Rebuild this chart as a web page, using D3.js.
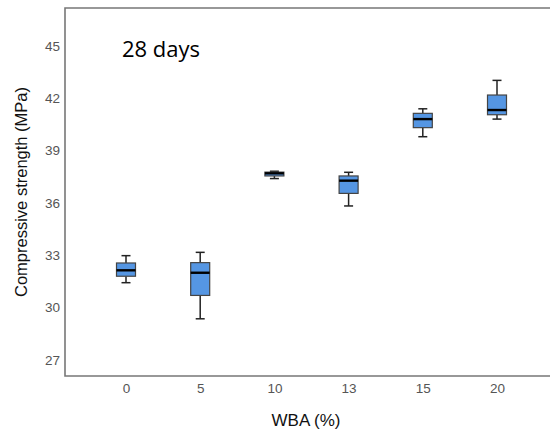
<!DOCTYPE html>
<html lang="en">
<head>
    <meta charset="utf-8">
    <title>Compressive strength boxplot</title>
    <script type="text/javascript" src="https://d3js.org/d3.v7.min.js"></script>
    <style>
        body { margin: 0; background: #fff; }
    </style>
</head>
<body>
    <div class="chart"></div>
    <script type="text/javascript">
        // DATA ------------------------------
        const categories = ["0", "5", "10", "13", "15", "20"];
        const mins    = [31.43, 29.36, 37.40, 35.83, 39.80, 40.81];
        const q1s     = [31.80, 30.70, 37.55, 36.55, 40.32, 41.06];
        const medians = [32.14, 32.00, 37.70, 37.28, 40.81, 41.33];
        const q3s     = [32.56, 32.58, 37.77, 37.55, 41.14, 42.19];
        const maxs    = [32.98, 33.17, 37.82, 37.76, 41.40, 43.03];
        const yTicks  = [27, 30, 33, 36, 39, 42, 45];

        const data = categories.map((c, i) => ({
            cat: c, min: mins[i], q1: q1s[i], med: medians[i], q3: q3s[i], max: maxs[i]
        }));

        // CHART INIT ------------------------------
        const width = 550, height = 432;
        const margin = ({top: 8, right: 0, bottom: 56, left: 65});

        const svg = d3.select(".chart")
            .append("svg")
            .attr("width", width)
            .attr("height", height);

        const xScale = d3.scalePoint()
            .domain(categories)
            .range([126, 497]);

        const yScale = d3.scaleLinear()
            .domain([26.08, 47.18])
            .range([height - margin.bottom, margin.top]);

        // frame (left, top, bottom)
        svg.append("path")
            .attr("d", `M${width},${margin.top}H${margin.left}V${height - margin.bottom}H${width}`)
            .attr("fill", "none")
            .attr("stroke", "#777")
            .attr("stroke-width", 1.6);

        // axes
        const yAxis = d3.axisLeft(yScale)
            .tickValues(yTicks)
            .tickSize(0)
            .tickPadding(5);

        svg.append("g")
            .attr("class", "axis y-axis")
            .attr("transform", `translate(${margin.left}, 0)`)
            .call(yAxis)
            .call(g => g.select(".domain").remove())
            .selectAll("text")
            .attr("font-family", "Liberation Sans, Arial, sans-serif")
            .attr("font-size", 13.5)
            .attr("fill", "#555");

        const xAxis = d3.axisBottom(xScale)
            .tickSize(0)
            .tickPadding(7);

        svg.append("g")
            .attr("class", "axis x-axis")
            .attr("transform", `translate(0, ${height - margin.bottom})`)
            .call(xAxis)
            .call(g => g.select(".domain").remove())
            .selectAll("text")
            .attr("font-family", "Liberation Sans, Arial, sans-serif")
            .attr("font-size", 13.5)
            .attr("fill", "#555");

        // axis titles
        svg.append("text")
            .attr("x", 306)
            .attr("y", 426)
            .attr("text-anchor", "middle")
            .attr("font-family", "Liberation Sans, Arial, sans-serif")
            .attr("font-size", 17)
            .attr("fill", "#111")
            .text("WBA (%)");

        svg.append("text")
            .attr("transform", "translate(27, 192) rotate(-90)")
            .attr("text-anchor", "middle")
            .attr("font-family", "Liberation Sans, Arial, sans-serif")
            .attr("font-size", 16.5)
            .attr("fill", "#111")
            .text("Compressive strength (MPa)");

        svg.append("text")
            .attr("x", 122)
            .attr("y", 57)
            .attr("font-family", "Open Sans, Lato, sans-serif")
            .attr("font-size", 22)
            .attr("fill", "#000")
            .text("28 days");

        // BOXES ------------------------------
        const boxW = 19, capW = 9;
        const boxes = svg.selectAll(".box")
            .data(data)
            .join("g")
            .attr("class", "box")
            .attr("transform", d => `translate(${xScale(d.cat)}, 0)`);

        // whiskers
        boxes.append("line")
            .attr("x1", 0).attr("x2", 0)
            .attr("y1", d => yScale(d.max))
            .attr("y2", d => yScale(d.q3))
            .attr("stroke", "#222").attr("stroke-width", 1.5);
        boxes.append("line")
            .attr("x1", 0).attr("x2", 0)
            .attr("y1", d => yScale(d.q1))
            .attr("y2", d => yScale(d.min))
            .attr("stroke", "#222").attr("stroke-width", 1.5);
        boxes.append("line")
            .attr("x1", -capW / 2).attr("x2", capW / 2)
            .attr("y1", d => yScale(d.max))
            .attr("y2", d => yScale(d.max))
            .attr("stroke", "#222").attr("stroke-width", 1.5);
        boxes.append("line")
            .attr("x1", -capW / 2).attr("x2", capW / 2)
            .attr("y1", d => yScale(d.min))
            .attr("y2", d => yScale(d.min))
            .attr("stroke", "#222").attr("stroke-width", 1.5);

        boxes.append("rect")
            .attr("x", -boxW / 2)
            .attr("width", boxW)
            .attr("y", d => yScale(d.q3))
            .attr("height", d => yScale(d.q1) - yScale(d.q3))
            .attr("fill", "#5596e3")
            .attr("stroke", "#444")
            .attr("stroke-width", 1.2);

        boxes.append("line")
            .attr("x1", -boxW / 2).attr("x2", boxW / 2)
            .attr("y1", d => yScale(d.med))
            .attr("y2", d => yScale(d.med))
            .attr("stroke", "#000").attr("stroke-width", 2.4);
    </script>
</body>
</html>
